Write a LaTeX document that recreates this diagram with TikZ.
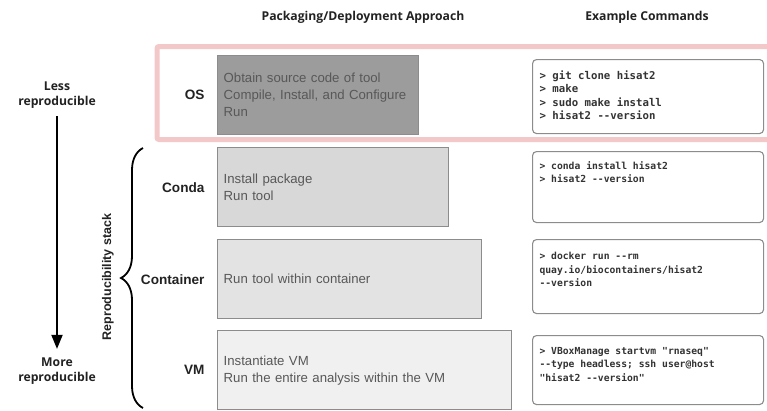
\documentclass[tikz,border=0pt]{standalone}
\usepackage{fontspec}
\setmainfont{Liberation Sans}
\setmonofont{DejaVu Sans Mono}
\newfontfamily\headfont{Open Sans}
\usetikzlibrary{arrows.meta, decorations.pathreplacing, positioning}

\definecolor{osgray}{HTML}{9C9C9C}
\definecolor{condagray}{HTML}{D8D8D8}
\definecolor{contgray}{HTML}{E3E3E3}
\definecolor{vmgray}{HTML}{F0F0F0}
\definecolor{boxline}{HTML}{8C8C8C}
\definecolor{boxtext}{HTML}{585858}
\definecolor{pinkline}{HTML}{F3C8C8}
\definecolor{darktext}{HTML}{222222}
\definecolor{codetext}{HTML}{333333}

\begin{document}
\begin{tikzpicture}[x=1pt, y=-1pt, >={Triangle[length=14pt, width=11pt]}]
        \tikzstyle{head} = [font=\headfont\bfseries\fontsize{12.2}{15.5}\selectfont, text=darktext, align=center]
        \tikzstyle{approach} = [rectangle, draw=boxline, line width=1.3pt, anchor=north west, inner xsep=6pt, minimum height=79pt, align=left, text=boxtext, font=\fontsize{13.2}{17}\selectfont]
        \tikzstyle{rowlabel} = [font=\bfseries\fontsize{13.6}{15}\selectfont, text=darktext]
        \tikzstyle{cmdbox} = [rectangle, draw=boxline, line width=1.1pt, rounded corners=4pt, fill=white, anchor=north west, minimum width=231pt]
        \tikzstyle{cmdtext} = [align=left, text=codetext, font=\ttfamily\bfseries\fontsize{9.7}{13.2}\selectfont]

        \useasboundingbox (0,0) rectangle (767,410);

        % column headers
        \node [head] (approachhead) at (363,17) {Packaging/Deployment Approach};
        \node [head] (cmdhead) at (647,17) {Example Commands};

        % highlighted OS row
        \draw [pinkline, line width=5pt, rounded corners=2pt] (767,46.5) -- (157,46.5) -- (157,139.5) -- (767,139.5);

        % approaches
        \node [approach, fill=osgray, text width=189pt] (os) at (217,55) {Obtain source code of tool\\Compile, Install, and Configure\\Run};
        \node [approach, fill=condagray, text width=219pt] (conda) at (217,147) {Install package\\Run tool};
        \node [approach, fill=contgray, text width=252pt] (container) at (217,239) {Run tool within container};
        \node [approach, fill=vmgray, text width=282pt] (vm) at (217,330) {Instantiate VM\\Run the entire analysis within the VM};

        \node [rowlabel, left=9pt of os] (oslabel) {OS};
        \node [rowlabel, left=9pt of conda] (condalabel) {Conda};
        \node [rowlabel, left=9pt of container] (containerlabel) {Container};
        \node [rowlabel, left=9pt of vm] (vmlabel) {VM};

        % example commands
        \node [cmdbox, minimum height=74pt] (oscmd) at (532,59) {};
        \node [cmdbox, minimum height=71pt] (condacmd) at (532,151) {};
        \node [cmdbox, minimum height=74pt] (containercmd) at (532,239) {};
        \node [cmdbox, minimum height=69pt] (vmcmd) at (532,335) {};

        \node [cmdtext, font=\ttfamily\bfseries\fontsize{10.7}{13.5}\selectfont, below right=8pt and 4pt of oscmd.north west] (oscmdtext) {> git clone hisat2\\> make\\> sudo make install\\> hisat2 --version};
        \node [cmdtext, below right=7pt and 4pt of condacmd.north west] (condacmdtext) {> conda install hisat2\\> hisat2 --version};
        \node [cmdtext, below right=10pt and 4pt of containercmd.north west] (containercmdtext) {> docker run --rm\\quay.io/biocontainers/hisat2\\--version};
        \node [cmdtext, below right=9pt and 4pt of vmcmd.north west] (vmcmdtext) {> VBoxManage startvm "rnaseq"\\--type headless; ssh user@host\\"hisat2 --version"};

        % reproducibility axis
        \node [head] (less) at (57,95) {Less\\reproducible};
        \node [head] (more) at (57,371) {More\\reproducible};
        \draw [->, line width=1.8pt, shorten <=4pt, shorten >=5pt] (less) -- (more);

        \coordinate (bracetop) at (143,148);
        \coordinate (bracebot) at (143,408);
        \draw [decorate, decoration={brace, amplitude=22pt}, line width=1.8pt] (bracebot) -- (bracetop);
        \node [rowlabel, rotate=90, font=\bfseries\fontsize{12.5}{15}\selectfont] (stack) at (108,277) {Reproducibility stack};
    \end{tikzpicture}
\end{document}
